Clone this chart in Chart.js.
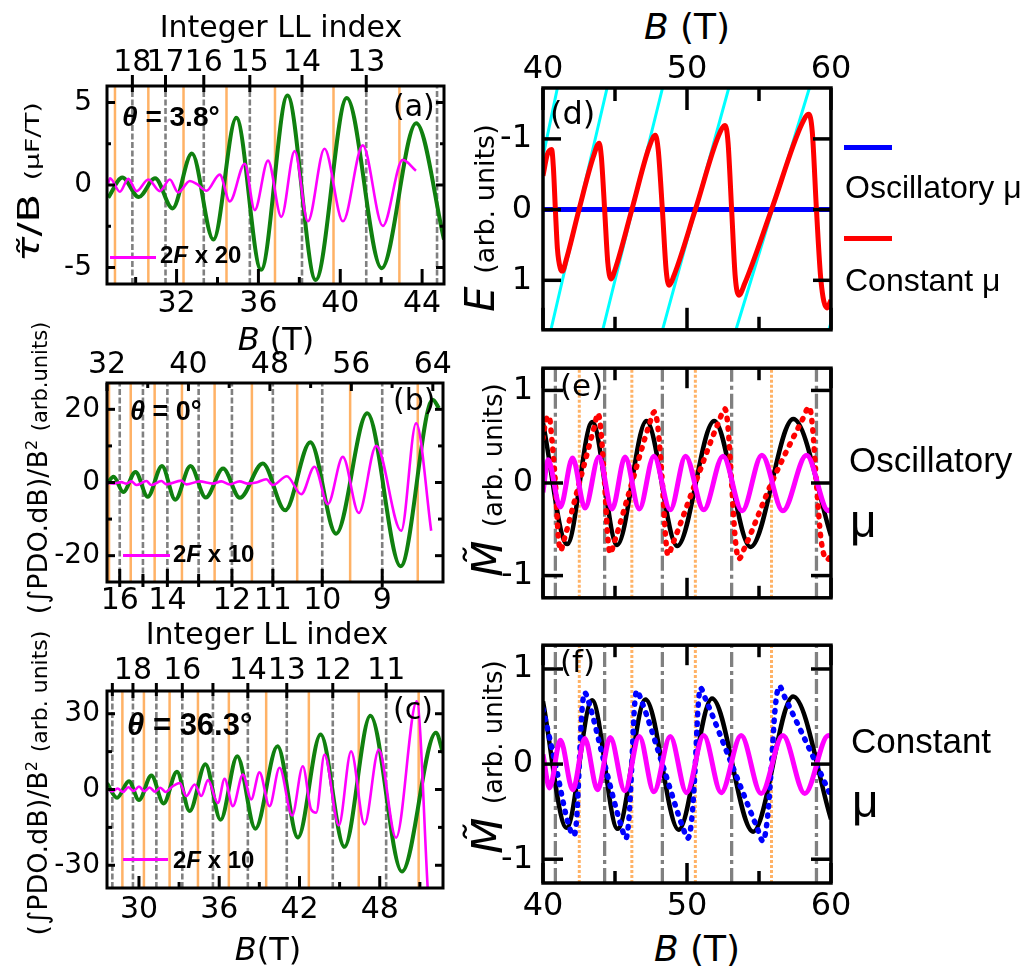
<!DOCTYPE html>
<html>
<head>
<meta charset="utf-8">
<script src="https://cdn.jsdelivr.net/npm/chart.js@4.4.0/dist/chart.umd.min.js"></script>
<style>
  body { margin: 0; background: #fff; }
  #fig { position: relative; width: 1029px; height: 971px; overflow: hidden; background: #fff; color: #000; }
  canvas { position: absolute; }
  .t { position: absolute; white-space: nowrap; line-height: 1; font-family: 'DejaVu Sans', sans-serif; }
  .l { font-family: 'Liberation Sans', Arial, sans-serif; }
  .b { font-weight: bold; }
  .c { transform: translateX(-50%); }
  .rot { transform: translate(-50%, -50%) rotate(-90deg); }
  .key { position: absolute; }
</style>
</head>
<body>
<div id="fig">
  <canvas id="pa"></canvas>
  <canvas id="pb"></canvas>
  <canvas id="pc"></canvas>
  <canvas id="pd"></canvas>
  <canvas id="pe"></canvas>
  <canvas id="pf"></canvas>

  <!-- axis titles -->
  <div class="t c" style="left:281px; top:12px; font-size:30px;">Integer LL index</div>
  <div class="t c" style="left:276px; top:323px; font-size:32px;"><i>B</i> (T)</div>
  <div class="t c" style="left:267px; top:619px; font-size:30px;">Integer LL index</div>
  <div class="t c" style="left:268px; top:933px; font-size:32px;"><i>B</i>(T)</div>
  <div class="t c" style="left:687px; top:9px; font-size:36px;"><i>B</i> (T)</div>
  <div class="t c" style="left:697px; top:931px; font-size:36px;"><i>B</i> (T)</div>

  <div class="t" style="left:29px; top:182px; font-size:30px; transform: translate(-50%,-50%) rotate(-90deg) scaleX(1.4);"><i>τ̃</i>/B <span style="font-size:19px">(μF/T)</span></div>
  <div class="t rot" style="left:37px; top:468px; font-size:27px;">(∫PDO.dB)/B<sup style="font-size:16px">2</sup> <span style="font-size:21px">(arb.units)</span></div>
  <div class="t rot" style="left:37px; top:783px; font-size:27px;">(∫PDO.dB)/B<sup style="font-size:16px">2</sup> <span style="font-size:22px">(arb. units)</span></div>
  <div class="t rot" style="left:480px; top:218px; font-size:40px;"><i>E</i> <span style="font-size:27px">(arb. units)</span></div>
  <div class="t rot" style="left:488px; top:480px; font-size:42px;"><i>M̃</i> <span style="font-size:26px">(arb. units)</span></div>
  <div class="t rot" style="left:488px; top:757px; font-size:42px;"><i>M̃</i> <span style="font-size:26px">(arb. units)</span></div>

  <!-- panel labels -->
  <div class="t" style="left:393px; top:91px; font-size:30px;">(a)</div>
  <div class="t" style="left:393px; top:385px; font-size:30px;">(b)</div>
  <div class="t" style="left:393px; top:694px; font-size:30px;">(c)</div>
  <div class="t" style="left:550px; top:97px; font-size:32px;">(d)</div>
  <div class="t" style="left:560px; top:370px; font-size:31px;">(e)</div>
  <div class="t" style="left:560px; top:646px; font-size:31px;">(f)</div>

  <!-- annotations -->
  <div class="t l b" style="left:122px; top:103px; font-size:28px;"><i>θ</i> = 3.8°</div>
  <div class="t l b" style="left:130px; top:398px; font-size:27px;"><i>θ</i> = 0°</div>
  <div class="t l b" style="left:127px; top:709px; font-size:31px;"><i>θ</i> = 36.3°</div>

  <div class="key" style="left:110px; top:256px; width:46px; height:3px; background:#ff00ff;"></div>
  <div class="t l b" style="left:160px; top:243px; font-size:24px;">2<i>F</i> x 20</div>
  <div class="key" style="left:123px; top:554px; width:47px; height:3px; background:#ff00ff;"></div>
  <div class="t l b" style="left:173px; top:542px; font-size:24px;">2<i>F</i> x 10</div>
  <div class="key" style="left:123px; top:858px; width:45px; height:3px; background:#ff00ff;"></div>
  <div class="t l b" style="left:173px; top:848px; font-size:24px;">2<i>F</i> x 10</div>

  <div class="key" style="left:844px; top:145px; width:48px; height:5px; background:#0000ff;"></div>
  <div class="t l" style="left:845px; top:171px; font-size:32px;">Oscillatory μ</div>
  <div class="key" style="left:844px; top:236px; width:48px; height:5px; background:#ff0000;"></div>
  <div class="t l" style="left:845px; top:264px; font-size:32px;">Constant μ</div>

  <div class="t l" style="left:849px; top:442px; font-size:35px;">Oscillatory</div>
  <div class="t l" style="left:850px; top:498px; font-size:46px;">μ</div>
  <div class="t l" style="left:851px; top:723px; font-size:35px;">Constant</div>
  <div class="t l" style="left:852px; top:778px; font-size:46px;">μ</div>
</div>

<script>
Chart.defaults.font.family = "'DejaVu Sans', sans-serif";
Chart.defaults.color = '#000';

const GREEN = '#10800f';
const MAGENTA = '#ff00ff';
const ORANGE = '#ffb266';
const GRAY = '#808080';

// ---- (a) torque, theta = 3.8 deg ----
const aGreenB = [28.66, 29.35, 30.15, 30.95, 31.8, 32.75, 33.8, 34.92, 36.13, 37.42, 38.8, 40.32, 42.02, 43.71, 45.07];
const aGreenV = [-0.77, 0.45, -0.73, 0.41, -1.42, 1.91, -3.31, 4.07, -5.14, 5.43, -5.75, 5.28, -5.04, 3.74, -3.3];
const aMagB = [28.66, 28.75, 29.23, 29.64, 30.05, 30.62, 31.18, 31.67, 32.08, 32.65, 33.0, 33.46, 34.11, 34.6, 35.33, 35.82, 36.47, 37.12, 37.77, 38.42, 39.23, 40.13, 41.1, 42.08, 43.05, 43.7];
const aMagV = [0.1, 0.41, -0.41, 0.37, -0.37, 0.33, -0.37, 0.33, -0.45, 0.24, 0.05, -0.35, 0.63, -1.0, 1.28, -1.52, 1.48, -1.93, 2.05, -2.2, 2.2, -2.2, 2.4, -2.48, 1.52, 0.87];
const aGrayB = [29.84, 31.46, 33.33, 35.58, 38.13, 41.27, 44.73];
const aOrangeB = [28.99, 30.62, 32.34, 34.44, 36.81, 39.67, 42.89];
const aLLB = [29.84, 31.46, 33.33, 35.58, 38.13, 41.27];
const aLLLabels = ['18', '17', '16', '15', '14', '13'];
const aBTicks = [30, 32, 34, 36, 38, 40, 42, 44];
const aBLabels = ['', '32', '', '36', '', '40', '', '44'];
const aYTicks = [-5, -2.5, 0, 2.5, 5];
const aYLabels = ['-5', '', '0', '', '5'];

// ---- (b) PDO, theta = 0 deg ----
const bGreenB = [32.0, 32.65, 33.6, 34.8, 36.0, 37.4, 38.7, 40.2, 41.7, 43.4, 45.05, 47.3, 49.5, 51.97, 54.5, 57.56, 60.84, 64.0, 64.6];
const bGreenV = [-0.3, 1.55, -2.6, 2.9, -3.9, 4.5, -4.7, 4.5, -4.1, 3.8, -4.2, 5.2, -7.6, 11.0, -14.0, 18.9, -22.9, 22.6, 20.3];
const bMagB = [32.0, 32.7, 33.4, 33.9, 34.39, 34.88, 35.87, 36.36, 37.34, 37.83, 39.3, 39.79, 41.1, 42.4, 43.23, 44.04, 45.02, 45.84, 46.66, 47.64, 48.29, 49.66, 51.08, 52.38, 53.69, 55.16, 56.73, 58.44, 60.89, 62.36, 63.84];
const bMagV = [-0.1, -0.3, 0.1, -0.3, 0.3, -0.7, 0.4, -0.7, 0.4, -0.5, 0.5, -0.5, 0.3, -0.3, 0.3, -0.5, 0.3, -0.3, 0.0, 0.9, -0.7, 1.7, -3.2, 4.3, -5.9, 7.0, -8.3, 10.0, -13.2, 16.2, -13.2];
const bGrayB = [33.25, 35.53, 37.93, 41.0, 44.27, 48.29, 53.14, 59.03];
const bOrangeB = [32.2, 34.33, 36.68, 39.36, 42.57, 46.23, 50.68, 55.88, 62.52];
const bLLLabels = ['16', '', '14', '', '12', '11', '10', '9'];
const bBTicks = [32, 36, 40, 44, 48, 52, 56, 60, 64];
const bBLabels = ['32', '', '40', '', '48', '', '56', '', '64'];
const bYTicks = [-20, -10, 0, 10, 20];
const bYLabels = ['-20', '', '0', '', '20'];

// ---- (c) PDO, theta = 36.3 deg ----
const cGreenB = [27.62, 28.36, 29.25, 30.0, 30.93, 31.84, 32.84, 33.79, 34.97, 36.1, 37.35, 38.7, 40.36, 41.88, 43.58, 45.36, 47.3, 49.66, 52.2, 52.73];
const cGreenV = [2.4, -3.3, 3.3, -4.2, 5.5, -5.5, 7.0, -8.5, 10.0, -12.0, 13.2, -15.5, 17.1, -19.0, 21.8, -22.7, 29.2, -32.5, 22.5, 14.5];
const cMagB = [27.62, 28.0, 28.4, 28.8, 29.2, 29.6, 30.0, 30.4, 30.8, 31.2, 31.6, 32.0, 32.5, 33.04, 33.54, 34.16, 34.66, 35.16, 35.9, 36.4, 37.02, 37.77, 38.39, 39.01, 39.76, 40.51, 41.45, 42.25, 42.87, 43.25, 43.87, 44.94, 45.86, 46.86, 47.93, 49.22, 50.77, 51.59];
const cMagV = [0.5, -0.8, 0.4, -1.0, 0.9, -0.6, 1.2, -0.7, 0.8, -0.9, 0.7, -1.0, 1.2, 2.6, -2.6, 2.0, -2.6, 3.7, -5.3, 4.2, -6.6, 5.9, -3.9, 6.8, -6.6, 8.6, -10.3, 9.2, -7.9, -9.2, 13.8, -14.2, 15.1, -13.8, 15.8, -19.1, 34.9, -39.5];
const cGrayB = [28.01, 29.55, 31.3, 33.24, 35.53, 38.14, 41.05, 44.49, 48.48];
const cOrangeB = [28.76, 30.37, 32.29, 34.41, 36.72, 39.51, 42.7, 46.43, 50.91];
const cLLLabels = ['', '18', '', '16', '', '14', '13', '12', '11'];
const cBTicks = [30, 33, 36, 39, 42, 45, 48, 51];
const cBLabels = ['30', '', '36', '', '42', '', '48', ''];
const cYTicks = [-30, -15, 0, 15, 30];
const cYLabels = ['-30', '', '0', '', '30'];

// ---- (d) energy vs field ----
const dRedB = [40.0, 40.3, 40.6, 40.72, 40.86, 41.0, 41.2, 41.35, 41.6, 42.5, 43.5, 43.9, 44.05, 44.28, 44.5, 44.72, 45.0, 46.17, 47.4, 47.8, 48.0, 48.29, 48.55, 48.75, 49.1, 50.58, 52.2, 52.65, 52.85, 53.1, 53.35, 53.6, 54.0, 55.87, 57.95, 58.45, 58.7, 58.99, 59.3, 59.72, 60.0];
const dRedE = [-0.48, -0.78, -0.85, -0.6, 0, 0.55, 0.83, 0.87, 0.72, 0, -0.75, -0.94, -0.75, 0, 0.75, 0.98, 0.85, 0, -0.9, -1.05, -0.85, 0, 0.85, 1.07, 0.93, 0, -1.05, -1.19, -0.95, 0, 0.95, 1.21, 1.05, 0, -1.2, -1.35, -1.1, 0, 1.0, 1.39, 1.28];
const dBlueB = [40, 60];
const dBlueE = [0, 0];
const dCyanB0 = [40.0, 40.55, 44.15, 48.3, 53.4, 59.85];
const dCyanE0 = [-0.75, 1.7, 1.7, 1.7, 1.7, 1.7];
const dCyanB1 = [41.0, 44.45, 48.3, 52.9, 58.5, 60.0];
const dCyanE1 = [-1.72, -1.72, -1.72, -1.72, -1.72, 1.6];
const dYTicks = [-1, 0, 1];
const dYLabels = ['-1', '0', '1'];

// ---- (e) oscillatory mu, (f) constant mu ----
const eBlackB = [40.0, 41.68, 43.42, 45.15, 47.18, 49.32, 51.89, 54.41, 57.38, 60.0];
const eBlackV = [0.65, -0.66, 0.66, -0.67, 0.67, -0.68, 0.67, -0.69, 0.69, -0.57];
const eRedB = [40.0, 40.2, 40.42, 40.6, 40.86, 41.05, 41.22, 41.45, 42.52, 43.55, 43.82, 44.0, 44.28, 44.48, 44.66, 44.95, 46.17, 47.4, 47.74, 47.98, 48.29, 48.5, 48.67, 49.0, 50.58, 52.2, 52.64, 52.85, 53.1, 53.35, 53.6, 54.0, 55.87, 58.0, 58.49, 58.72, 58.99, 59.3, 59.75, 60.0];
const eRedV = [0.48, 0.68, 0.72, 0.5, 0, -0.55, -0.73, -0.62, 0, 0.6, 0.75, 0.6, 0, -0.55, -0.76, -0.64, 0, 0.64, 0.77, 0.6, 0, -0.55, -0.78, -0.66, 0, 0.66, 0.8, 0.6, 0, -0.6, -0.82, -0.7, 0, 0.68, 0.82, 0.6, 0, -0.6, -0.83, -0.77];
const eMagB = [40.0, 40.35, 41.2, 42.05, 42.92, 43.88, 44.8, 45.7, 46.69, 47.7, 48.84, 49.9, 51.16, 52.5, 53.83, 55.2, 56.66, 58.3, 59.82, 60.0];
const eMagV = [-0.1, 0.25, -0.26, 0.27, -0.27, 0.28, -0.28, 0.28, -0.28, 0.29, -0.29, 0.29, -0.29, 0.29, -0.3, 0.3, -0.3, 0.3, -0.3, -0.28];

const fBlackB = [40.0, 41.64, 43.41, 45.18, 47.12, 49.42, 51.74, 54.59, 57.37, 60.0];
const fBlackV = [0.66, -0.67, 0.67, -0.68, 0.68, -0.69, 0.69, -0.71, 0.71, -0.58];
const fBlueB = [40.0, 40.86, 41.8, 42.15, 42.35, 42.52, 42.7, 42.9, 43.2, 44.28, 45.45, 45.76, 45.98, 46.17, 46.33, 46.51, 46.85, 48.29, 49.7, 50.05, 50.35, 50.58, 50.75, 50.93, 51.3, 53.1, 54.9, 55.27, 55.6, 55.87, 56.1, 56.41, 56.8, 58.99, 60.0];
const fBlueV = [0.58, 0, -0.65, -0.75, -0.55, 0, 0.55, 0.75, 0.64, 0, -0.66, -0.78, -0.55, 0, 0.55, 0.77, 0.66, 0, -0.66, -0.78, -0.55, 0, 0.55, 0.8, 0.68, 0, -0.68, -0.81, -0.55, 0, 0.55, 0.82, 0.7, 0, -0.34];
const fMagB = [40.0, 40.45, 41.21, 42.07, 42.9, 43.79, 44.67, 45.68, 46.69, 47.7, 48.84, 49.97, 51.16, 52.37, 53.76, 55.15, 56.66, 58.18, 59.82, 60.0];
const fMagV = [0.1, -0.25, 0.25, -0.27, 0.27, -0.27, 0.28, -0.28, 0.29, -0.29, 0.29, -0.3, 0.3, -0.3, 0.3, -0.31, 0.3, -0.31, 0.3, 0.29];

const efGrayB = [40.86, 44.28, 48.29, 53.1, 58.99];
const efOrangeB = [42.52, 46.17, 50.58, 55.87];
const rBTicks = [40, 45, 50, 55, 60];
const rBLabels = ['40', '', '50', '', '60'];
const efYTicks = [-1, 0, 1];
const efYLabels = ['-1', '0', '1'];

// frame box + inward tick marks, drawn on top of the curves
const frameTicks = {
  id: 'frameTicks',
  afterDatasetsDraw(chart, args, opts) {
    const { ctx, chartArea: a } = chart;
    ctx.save();
    ctx.strokeStyle = '#000';
    ctx.lineWidth = opts.width;
    ['x', 'x2', 'y', 'y2'].forEach(id => {
      const s = chart.scales[id];
      const len = opts[id];
      if (!s || !len) return;
      s.ticks.forEach(t => {
        const p = s.getPixelForValue(t.value);
        const l = t.long ? len[0] : len[1];
        const o = len[2] || 0;
        ctx.beginPath();
        if (id === 'x') { ctx.moveTo(p, a.bottom + o); ctx.lineTo(p, a.bottom - l); }
        if (id === 'x2') { ctx.moveTo(p, a.top - o); ctx.lineTo(p, a.top + l); }
        if (id === 'y') { ctx.moveTo(a.left - o, p); ctx.lineTo(a.left + l, p); }
        if (id === 'y2') { ctx.moveTo(a.right + o, p); ctx.lineTo(a.right - l, p); }
        ctx.stroke();
      });
    });
    ctx.strokeRect(a.left, a.top, a.right - a.left, a.bottom - a.top);
    ctx.restore();
  }
};

function axis(position, min, max, vals, labels, size, o) {
  o = o || {};
  return {
    type: 'linear', position, min, max, reverse: !!o.reverse,
    grid: { display: false, drawTicks: false },
    border: { display: false },
    afterBuildTicks: s => { s.ticks = vals.map((v, i) => ({ value: v, long: labels[i] !== '' })); },
    afterFit: s => {
      if (position === 'left' || position === 'right') s.width = size;
      else s.height = size;
    },
    ticks: {
      display: o.show !== false, autoSkip: false, maxRotation: 0, minRotation: 0,
      padding: o.pad || 0, font: { size: o.size || 28 }, color: '#000',
      callback: (v, i) => labels[i]
    }
  };
}

function curve(xs, ys, color, width, order, dash) {
  return {
    data: xs.map((x, i) => ({ x, y: ys[i] })),
    borderColor: color, borderWidth: width, borderDash: dash || [],
    borderCapStyle: dash ? 'round' : 'butt', borderJoinStyle: 'round',
    pointRadius: 0, cubicInterpolationMode: 'monotone', fill: false, order
  };
}

function vlines(bs, y0, y1, color, width, order, dash) {
  const data = [];
  bs.forEach(b => { data.push({ x: b, y: y0 }, { x: b, y: y1 }, { x: b, y: null }); });
  return { data, borderColor: color, borderWidth: width, borderDash: dash || [], pointRadius: 0, spanGaps: false, fill: false, order };
}

function segments(x0, y0, x1, y1, color, width, order) {
  const data = [];
  x0.forEach((x, i) => { data.push({ x, y: y0[i] }, { x: x1[i], y: y1[i] }, { x: x1[i], y: null }); });
  return { data, borderColor: color, borderWidth: width, pointRadius: 0, spanGaps: false, fill: false, order };
}

function panel(id, box, pads, scales, datasets, marks) {
  const cv = document.getElementById(id);
  cv.width = box[2] - box[0] + pads[0] + pads[2];
  cv.height = box[3] - box[1] + pads[1] + pads[3];
  cv.style.left = (box[0] - pads[0]) + 'px';
  cv.style.top = (box[1] - pads[1]) + 'px';
  return new Chart(cv, {
    type: 'line',
    data: { datasets },
    options: {
      responsive: false, animation: false, devicePixelRatio: 1, events: [],
      layout: { padding: 0 },
      plugins: { legend: { display: false }, tooltip: { enabled: false }, frameTicks: marks },
      scales
    },
    plugins: [frameTicks]
  });
}

// (a)
panel('pa', [107, 86, 444, 284], [107, 86, 30, 50], {
  x: axis('bottom', 28.6, 45.07, aBTicks, aBLabels, 50, { pad: 2, size: 30 }),
  x2: axis('top', 28.6, 45.07, aLLB, aLLLabels, 86, { pad: 5, size: 30 }),
  y: axis('left', -6, 6, aYTicks, aYLabels, 107, { pad: 15, size: 28 }),
  y2: axis('right', -6, 6, aYTicks, aYLabels, 30, { show: false })
}, [
  curve(aMagB, aMagV, MAGENTA, 2.6, 1),
  curve(aGreenB, aGreenV, GREEN, 4, 2),
  vlines(aOrangeB, -6, 6, ORANGE, 2.5, 3),
  vlines(aGrayB, -6, 6, GRAY, 2.6, 4, [6, 2.5])
], { width: 3, x: [15, 7], x2: [6, 6, 11], y: [8, 4], y2: [8, 4] });

// (b)
panel('pb', [107, 383, 443, 582], [107, 40, 30, 40], {
  x: axis('bottom', 32, 65, bGrayB, bLLLabels, 40, { pad: 1, size: 30 }),
  x2: axis('top', 32, 65, bBTicks, bBLabels, 40, { pad: 0, size: 30 }),
  y: axis('left', -27.2, 27.2, bYTicks, bYLabels, 107, { pad: 7, size: 28 }),
  y2: axis('right', -27.2, 27.2, bYTicks, bYLabels, 30, { show: false })
}, [
  curve(bMagB, bMagV, MAGENTA, 2.6, 1),
  curve(bGreenB, bGreenV, GREEN, 4, 2),
  vlines(bOrangeB, -27.2, 27.2, ORANGE, 2.5, 3),
  vlines(bGrayB, -27.2, 27.2, GRAY, 2.6, 4, [6, 2.5])
], { width: 3, x: [13, 8, 5], x2: [8, 5], y: [8, 5], y2: [8, 5] });

// (c)
panel('pc', [107, 691, 443, 888], [107, 40, 30, 45], {
  x: axis('bottom', 27.61, 52.73, cBTicks, cBLabels, 45, { pad: 4, size: 30 }),
  x2: axis('top', 27.61, 52.73, cGrayB, cLLLabels, 40, { pad: 2, size: 30 }),
  y: axis('left', -39, 39, cYTicks, cYLabels, 107, { pad: 7, size: 28 }),
  y2: axis('right', -39, 39, cYTicks, cYLabels, 30, { show: false })
}, [
  curve(cMagB, cMagV, MAGENTA, 2.6, 1),
  curve(cGreenB, cGreenV, GREEN, 4, 2),
  vlines(cOrangeB, -39, 39, ORANGE, 2.5, 3),
  vlines(cGrayB, -39, 39, GRAY, 2.6, 4, [6, 2.5])
], { width: 3, x: [12, 6], x2: [7, 5, 8], y: [8, 5], y2: [8, 5] });

// (d)
panel('pd', [543, 88, 831, 335], [60, 40, 30, 25], {
  x: axis('bottom', 40, 60, rBTicks, rBLabels, 25, { show: false }),
  x2: axis('top', 40, 60, rBTicks, rBLabels, 40, { pad: -1, size: 32 }),
  y: axis('left', -1.72, 1.7, dYTicks, dYLabels, 60, { pad: 11, size: 32, reverse: true }),
  y2: axis('right', -1.72, 1.7, dYTicks, dYLabels, 30, { show: false, reverse: true })
}, [
  curve(dRedB, dRedE, '#ff0000', 5, 1),
  curve(dBlueB, dBlueE, '#0000ff', 5, 2),
  segments(dCyanB0, dCyanE0, dCyanB1, dCyanE1, '#00ffff', 3, 3)
], { width: 3.5, x: [22, 13], x2: [22, 13], y: [18, 10], y2: [18, 10] });

// (e)
panel('pe', [543, 359, 831, 607], [60, 20, 30, 20], {
  x: axis('bottom', 40, 60, rBTicks, rBLabels, 20, { show: false }),
  x2: axis('top', 40, 60, rBTicks, rBLabels, 20, { show: false }),
  y: axis('left', -1.24, 1.24, efYTicks, efYLabels, 60, { pad: 10, size: 32 }),
  y2: axis('right', -1.24, 1.24, efYTicks, efYLabels, 30, { show: false })
}, [
  curve(eMagB, eMagV, MAGENTA, 5, 1),
  curve(eRedB, eRedV, '#ff0000', 5.5, 2, [1.5, 8]),
  curve(eBlackB, eBlackV, '#000000', 4.5, 3),
  vlines(efOrangeB, -1.24, 1.24, ORANGE, 3, 4, [3, 2]),
  vlines(efGrayB, -1.24, 1.24, GRAY, 3.3, 5, [15, 4, 4, 4])
], { width: 3.5, x: [20, 12], x2: [20, 12], y: [20, 10], y2: [20, 10] });

// (f)
panel('pf', [543, 636, 831, 883], [60, 20, 30, 45], {
  x: axis('bottom', 40, 60, rBTicks, rBLabels, 45, { pad: 4, size: 32 }),
  x2: axis('top', 40, 60, rBTicks, rBLabels, 20, { show: false }),
  y: axis('left', -1.25, 1.25, efYTicks, efYLabels, 60, { pad: 10, size: 32 }),
  y2: axis('right', -1.25, 1.25, efYTicks, efYLabels, 30, { show: false })
}, [
  curve(fMagB, fMagV, MAGENTA, 5, 1),
  curve(fBlueB, fBlueV, '#0000ff', 5.5, 2, [1.5, 8]),
  curve(fBlackB, fBlackV, '#000000', 4.5, 3),
  vlines(efOrangeB, -1.25, 1.25, ORANGE, 3, 4, [3, 2]),
  vlines(efGrayB, -1.25, 1.25, GRAY, 3.3, 5, [15, 4, 4, 4])
], { width: 3.5, x: [20, 12], x2: [20, 12], y: [20, 10], y2: [20, 10] });
</script>
</body>
</html>
